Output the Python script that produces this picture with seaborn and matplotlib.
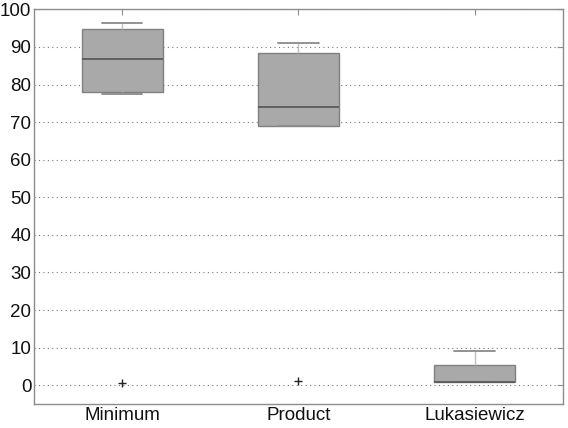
import pandas as pd
import matplotlib
matplotlib.use("Agg")
import matplotlib.pyplot as plt
import seaborn as sns

# --- DATA ---
categories = ["Minimum", "Product", "Lukasiewicz"]
minimum_vals = [0.5, 77.6, 78.1, 82.0, 86.7, 91.0, 94.7, 95.5, 96.5]
product_vals = [1.0, 68.9, 69.1, 71.0, 74.0, 80.0, 88.3, 90.0, 91.0]
lukasiewicz_vals = [0.9, 0.9, 0.9, 0.9, 0.9, 3.0, 5.3, 7.0, 9.0]
y_ticks = list(range(0, 101, 10))

rows = []
for cat, vals in zip(categories, [minimum_vals, product_vals, lukasiewicz_vals]):
    for v in vals:
        rows.append({"method": cat, "value": v})
df = pd.DataFrame(rows)

sns.set_style("white")
plt.rcParams["font.family"] = ["Liberation Sans", "DejaVu Sans"]

fig = plt.figure(figsize=(5.68, 4.28), dpi=100)
ax = fig.add_axes([0.06, 0.056, 0.931, 0.922])

sns.boxplot(
    data=df, x="method", y="value", order=categories,
    width=0.46, color="#a9a9a9", saturation=1, linecolor="#808080",
    linewidth=1.0, whis=1.5,
    medianprops={"color": "#5a5a5a", "linewidth": 1.3},
    whiskerprops={"color": "#c0c0c0", "linewidth": 1.0},
    capprops={"color": "#8a8a8a", "linewidth": 1.3},
    flierprops={"marker": "+", "markeredgecolor": "#222222", "markersize": 6, "markeredgewidth": 1.0},
    ax=ax,
)

ax.set_ylim(-5, 100)
ax.set_yticks(y_ticks)
ax.set_xlabel("")
ax.set_ylabel("")
ax.yaxis.grid(True, linestyle=(0, (1, 3)), color="#777777", linewidth=0.8)
ax.xaxis.grid(False)
ax.set_axisbelow(True)

for s in ax.spines.values():
    s.set_visible(True)
    s.set_color("#8c8c8c")
    s.set_linewidth(1.0)

ax.tick_params(axis="both", direction="in", length=4, width=0.8, color="#8c8c8c",
               labelsize=13.5, labelcolor="#111111", top=True, right=True, pad=2)

fig.savefig("out.png", dpi=100)
